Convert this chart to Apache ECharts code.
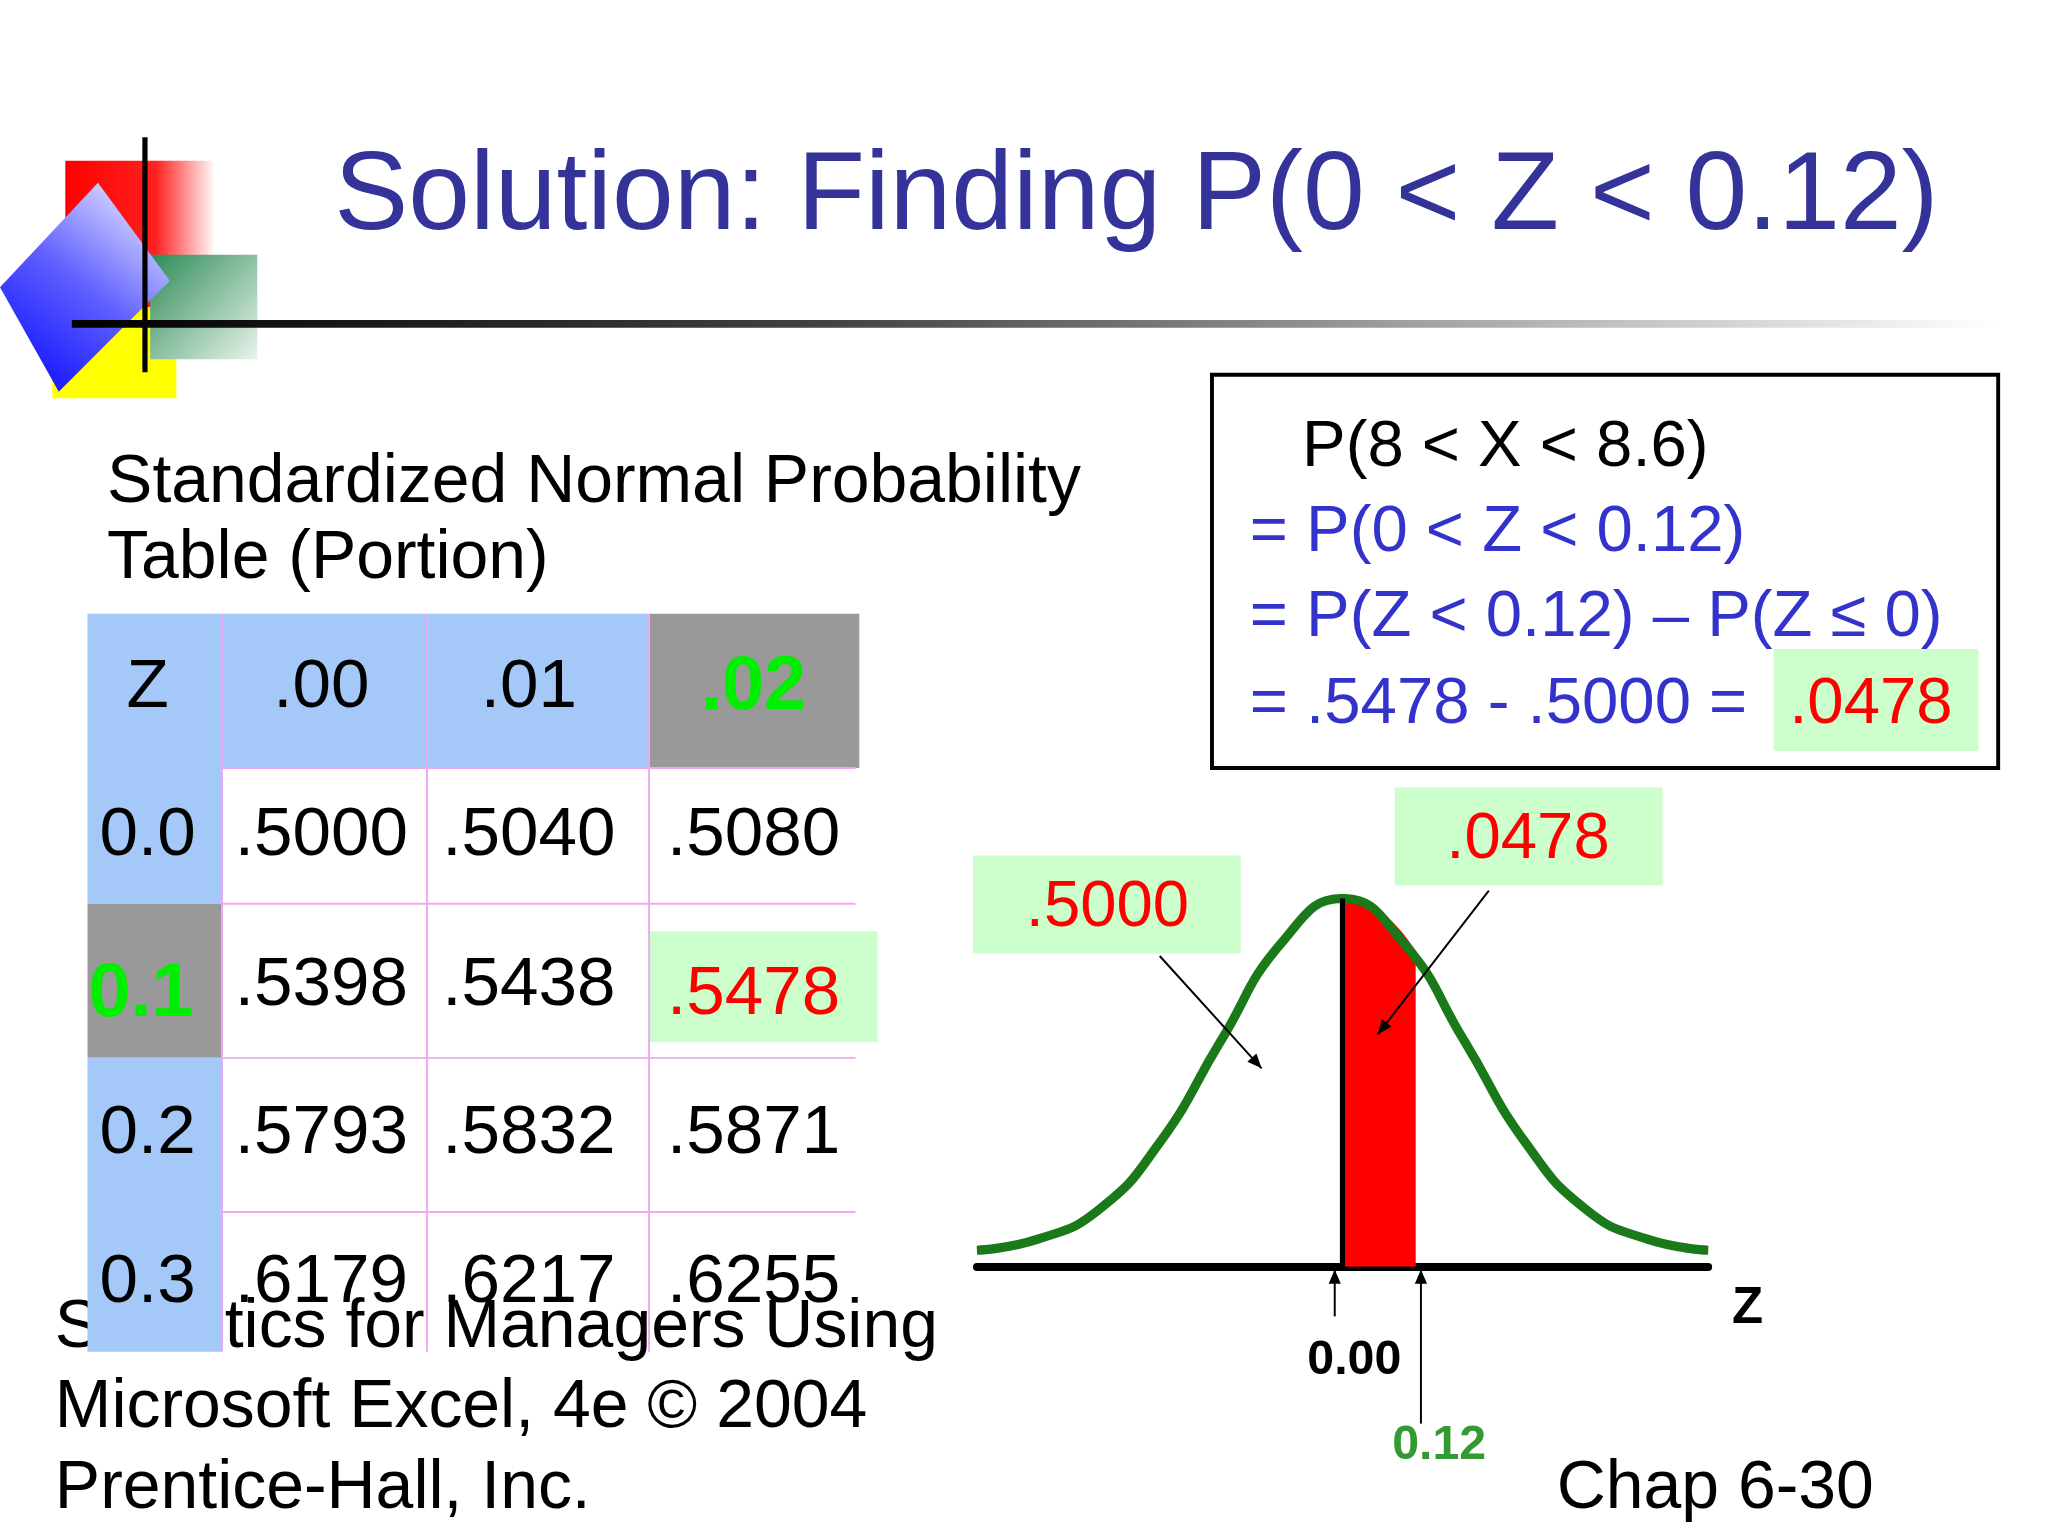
<!DOCTYPE html>
<html>
<head>
<meta charset="utf-8">
<script src="https://cdn.jsdelivr.net/npm/echarts@6/dist/echarts.min.js"></script>
<style>html,body{margin:0;background:#fff}#main{width:2048px;height:1536px}</style>
</head>
<body>
<div id="main"></div>
<script>
// curve
var zValues = [-3, -2.5, -2, -1.5, -1, -0.5, 0, 0.5, 1, 1.5, 2, 2.5, 3];
var density = [0.018, 0.03, 0.062, 0.135, 0.245, 0.352, 0.4, 0.352, 0.245, 0.135, 0.062, 0.03, 0.018];
var shadeZ = [0, 0.3, 0.6];
var shadeDensity = [0.4, 0.387, 0.343];

var colHeads = ['Z', '.00', '.01', '.02'];
var rowHeads = ['0.0', '0.1', '0.2', '0.3'];
var cells = [
  ['.5000', '.5040', '.5080'],
  ['.5398', '.5438', '.5478'],
  ['.5793', '.5832', '.5871'],
  ['.6179', '.6217', '.6255']
];

var k = 1.306;
function s(v) { return v * k; }
var F = 'Liberation Sans, Arial, sans-serif';
function txt(t, x, y, size, color, opt) {
  opt = opt || {};
  return { type: 'text', z: opt.z || 10, style: {
    text: t, x: s(x), y: s(y), fill: color,
    font: (opt.bold ? 'bold ' : '') + s(size) + 'px ' + F,
    textAlign: opt.align || 'left', textVerticalAlign: 'middle' } };
}
function rect(x1, y1, x2, y2, fill, opt) {
  opt = opt || {};
  return { type: 'rect', z: opt.z || 5, shape: { x: s(x1), y: s(y1), width: s(x2 - x1), height: s(y2 - y1) },
    style: { fill: fill, stroke: opt.stroke || null, lineWidth: opt.lw || 0 } };
}
function line(x1, y1, x2, y2, color, w, z) {
  return { type: 'line', z: z || 6, shape: { x1: s(x1), y1: s(y1), x2: s(x2), y2: s(y2) }, style: { stroke: color, lineWidth: s(w) } };
}
function arrow(x1, y1, x2, y2) {
  var a = Math.atan2(y2 - y1, x2 - x1), L = 12, w = 0.4;
  return [line(x1, y1, x2, y2, '#000', 1.5, 20),
    { type: 'polygon', z: 20, shape: { points: [[s(x2), s(y2)],
      [s(x2 - L * Math.cos(a - w)), s(y2 - L * Math.sin(a - w))],
      [s(x2 - L * Math.cos(a + w)), s(y2 - L * Math.sin(a + w))]] }, style: { fill: '#000' } }];
}

var g = [];
// decoration
g.push(rect(50, 123, 165, 235, { type: 'linear', x: 0, y: 0, x2: 1, y2: 0, colorStops: [{ offset: 0, color: '#ff0000' }, { offset: 0.6, color: '#ff2020' }, { offset: 1, color: '#ffffff' }] }, { z: 1 }));
g.push(rect(40, 235, 135, 305, '#ffff00', { z: 1 }));
g.push(rect(115, 195, 197, 275, { type: 'linear', x: 0, y: 0, x2: 1, y2: 1, colorStops: [{ offset: 0, color: '#2e8b57' }, { offset: 1, color: '#e8f4ec' }] }, { z: 2 }));
g.push({ type: 'polygon', z: 3, shape: { points: [[s(0), s(220)], [s(75), s(140)], [s(130), s(215)], [s(45), s(300)]] },
  style: { fill: { type: 'linear', x: 0, y: 1, x2: 1, y2: 0, colorStops: [{ offset: 0, color: '#0000ff' }, { offset: 0.5, color: '#6060ff' }, { offset: 1, color: '#ffffff' }] } } });
g.push(line(111, 105, 111, 285, '#000', 4, 4));
g.push({ type: 'rect', z: 4, shape: { x: s(55), y: s(245), width: s(1475), height: s(6) },
  style: { fill: { type: 'linear', x: 0, y: 0, x2: 1, y2: 0, colorStops: [{ offset: 0, color: '#000' }, { offset: 0.4, color: '#444' }, { offset: 1, color: '#fff' }] } } });
g.push(txt('Solution: Finding P(0 < Z < 0.12)', 256, 152, 85, '#333399'));
g.push(txt('Standardized Normal Probability', 82, 370, 52, '#000'));
g.push(txt('Table (Portion)', 82, 428, 52, '#000'));

// footer (behind the table)
g.push(txt('Statistics for Managers Using', 42, 1017, 52, '#000', { z: 3 }));
g.push(txt('Microsoft Excel, 4e \u00a9 2004', 42, 1078, 52, '#000', { z: 3 }));
g.push(txt('Prentice-Hall, Inc.', 42, 1140, 52, '#000', { z: 3 }));
g.push(txt('Chap 6-30', 1192, 1140, 52, '#000', { z: 3 }));

// table
var cx = [67, 170, 327, 497, 658];
var cy = [470, 588, 692, 810, 928, 1035];
var blue = '#a4c8f8', gray = '#999999', pink = '#f0a8f0';
for (var c = 0; c < 4; c++) g.push(rect(cx[c], cy[0], cx[c + 1], cy[1], c === 3 ? gray : blue));
for (var r = 0; r < 4; r++) g.push(rect(cx[0], cy[r + 1], cx[1], cy[r + 2], r === 1 ? gray : blue));
g.push(rect(497, 713, 672, 798, '#ccffcc', { z: 6 }));
for (var i = 1; i < 4; i++) g.push(line(cx[i], cy[0], cx[i], cy[5], pink, 1.5, 7));
for (var j = 1; j < 5; j++) g.push(line(cx[1], cy[j], 655, cy[j], pink, 1.5, 7));
var colC = [113, 246, 405, 577];
var rowC = [640, 755, 868, 982];
colHeads.forEach(function (h, c) {
  g.push(txt(h, colC[c], 527, c === 3 ? 58 : 53, c === 3 ? '#00ee00' : '#000', { align: 'center', bold: c === 3 }));
});
rowHeads.forEach(function (h, r) {
  g.push(txt(h, r === 1 ? 108 : 113, r === 1 ? 762 : rowC[r], r === 1 ? 58 : 53, r === 1 ? '#00ee00' : '#000', { align: 'center', bold: r === 1 }));
  cells[r].forEach(function (v, c) {
    var red = r === 1 && c === 2;
    g.push(txt(v, colC[c + 1], red ? 762 : rowC[r], 53, red ? '#ff0000' : '#000', { align: 'center' }));
  });
});

// formula box
g.push(rect(928, 287, 1530, 588, '#fff', { stroke: '#000', lw: s(3), z: 4 }));
g.push(rect(1358, 497, 1515, 575, '#ccffcc', { z: 5 }));
g.push(txt('P(8 < X < 8.6)', 997, 343, 50, '#000'));
g.push(txt('= P(0 < Z < 0.12)', 957, 408, 50, '#3333cc'));
g.push(txt('= P(Z < 0.12) \u2013 P(Z \u2264 0)', 957, 473, 50, '#3333cc'));
g.push(txt('= .5478 - .5000 = ', 957, 540, 50, '#3333cc'));
g.push(txt('.0478', 1370, 540, 50, '#ff0000'));

// curve labels
g.push(rect(745, 655, 950, 730, '#ccffcc', { z: 8 }));
g.push(txt('.5000', 848, 695, 50, '#ff0000', { align: 'center' }));
g.push(rect(1068, 603, 1273, 678, '#ccffcc', { z: 8 }));
g.push(txt('.0478', 1170, 643, 50, '#ff0000', { align: 'center' }));
g = g.concat(arrow(888, 732, 966, 818), arrow(1140, 682, 1055, 792),
  arrow(1022, 1008, 1022, 972), arrow(1088, 1090, 1088, 972));
g.push(txt('0.00', 1037, 1042, 37, '#000', { align: 'center', bold: true }));
g.push(txt('0.12', 1102, 1107, 37, '#339933', { align: 'center', bold: true }));
g.push(txt('Z', 1338, 1002, 39, '#000', { align: 'center', bold: true }));

var chart = echarts.init(document.getElementById('main'));
chart.setOption({
  animation: false,
  grid: { left: s(748), width: s(560), top: s(688), height: s(282) },
  xAxis: { type: 'value', min: -3, max: 3, axisLine: { onZero: false, lineStyle: { color: '#000', width: s(6) } },
    axisTick: { show: false }, axisLabel: { show: false }, splitLine: { show: false } },
  yAxis: { type: 'value', min: 0, max: 0.4, show: false },
  series: [
    { type: 'line', data: shadeZ.map(function (z, i) { return [z, shadeDensity[i]]; }), smooth: true, symbol: 'none',
      lineStyle: { width: 0 }, areaStyle: { color: '#ff0000', opacity: 1 }, z: 2 },
    { type: 'line', data: zValues.map(function (z, i) { return [z, density[i]]; }), smooth: true, symbol: 'none',
      lineStyle: { color: '#1a7a1a', width: s(7) }, z: 3,
      markLine: { symbol: 'none', silent: true, label: { show: false }, lineStyle: { color: '#000', width: s(4), type: 'solid' },
        data: [[{ coord: [0, 0] }, { coord: [0, 0.4] }]] } }
  ],
  graphic: g
});
</script>
</body>
</html>
